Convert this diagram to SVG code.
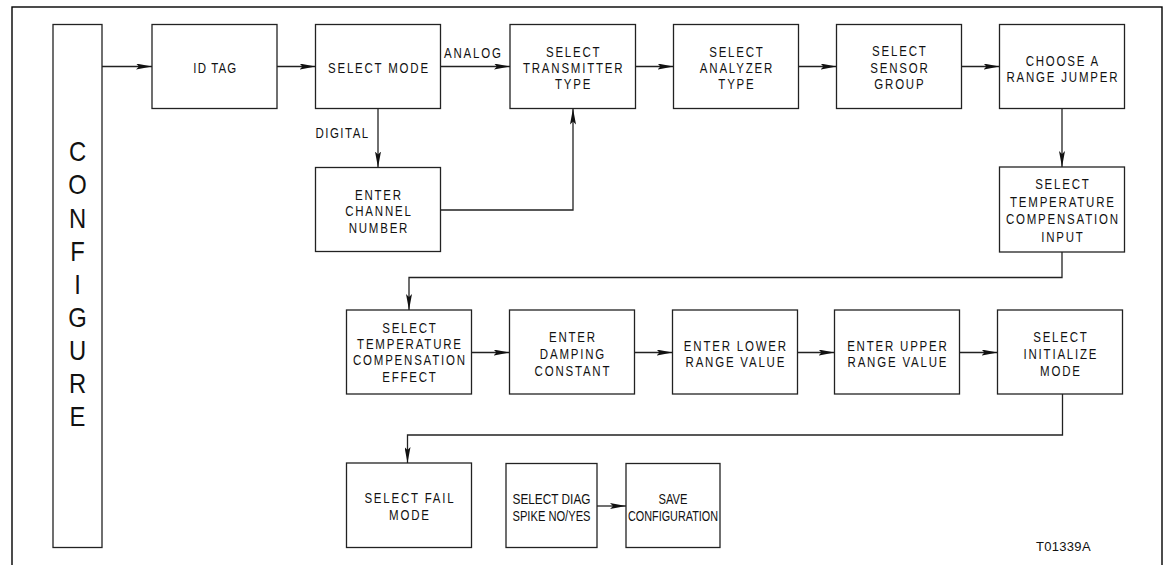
<svg xmlns="http://www.w3.org/2000/svg" width="1167" height="565" viewBox="0 0 1167 565">
<style>
.frame{fill:none;stroke:#000;stroke-width:1.4}
.box{fill:#fff;stroke:#222;stroke-width:1.3}
.t{font-family:"Liberation Sans",Arial,sans-serif;font-size:14px;fill:#111;text-anchor:middle;letter-spacing:2.2px}
.big{font-family:"Liberation Sans",Arial,sans-serif;font-size:28px;fill:#111;text-anchor:middle}
.lbl{font-family:"Liberation Sans",Arial,sans-serif;font-size:14px;fill:#111;letter-spacing:2.2px}
.id{font-family:"Liberation Sans",Arial,sans-serif;font-size:13px;fill:#111;letter-spacing:0.3px}
.c{fill:none;stroke:#222;stroke-width:1.3}
</style>
<defs>
<marker id="ah" markerUnits="userSpaceOnUse" markerWidth="16" markerHeight="6" refX="16" refY="3" orient="auto" viewBox="0 0 16 6">
<path d="M0,0 L16,3 L0,6 L3,3 z" fill="#111"/>
</marker>
</defs>
<rect class="frame" x="12" y="7" width="1150" height="570"/>

<g id="configure">
<rect class="box" x="53" y="24.5" width="49" height="523"/>
<text class="big" transform="scale(0.85,1)"><tspan x="91.2" y="161.5">C</tspan><tspan x="91.2" y="194.5">O</tspan><tspan x="91.2" y="228">N</tspan><tspan x="91.2" y="261">F</tspan><tspan x="91.2" y="294">I</tspan><tspan x="91.2" y="327.5">G</tspan><tspan x="91.2" y="360.5">U</tspan><tspan x="91.2" y="393.5">R</tspan><tspan x="91.2" y="426.5">E</tspan></text>
</g>

<g id="id-tag">
<rect class="box" x="152" y="24.5" width="125" height="84"/>
<text class="t" transform="scale(0.82,1)" x="262.7" y="73" style="letter-spacing:1.4px">ID TAG</text>
</g>
<g id="select-mode">
<rect class="box" x="315.5" y="24.5" width="125" height="84"/>
<text class="t" transform="scale(0.82,1)" x="462.1" y="73">SELECT MODE</text>
</g>
<g id="select-transmitter">
<rect class="box" x="510" y="24.5" width="125.5" height="84"/>
<text class="t" transform="scale(0.82,1)"><tspan x="699.6" y="56.7">SELECT</tspan><tspan x="699.6" y="73.3">TRANSMITTER</tspan><tspan x="699.6" y="89.3">TYPE</tspan></text>
</g>
<g id="select-analyzer">
<rect class="box" x="673.5" y="24.5" width="125" height="84"/>
<text class="t" transform="scale(0.82,1)"><tspan x="898.7" y="56.7">SELECT</tspan><tspan x="898.7" y="73.3">ANALYZER</tspan><tspan x="898.7" y="89.3">TYPE</tspan></text>
</g>
<g id="select-sensor">
<rect class="box" x="836.5" y="24.5" width="125" height="84"/>
<text class="t" transform="scale(0.82,1)"><tspan x="1097.4" y="56">SELECT</tspan><tspan x="1097.4" y="72.5">SENSOR</tspan><tspan x="1097.4" y="89">GROUP</tspan></text>
</g>
<g id="range-jumper">
<rect class="box" x="999.5" y="24.5" width="125" height="84"/>
<text class="t" transform="scale(0.82,1)"><tspan x="1296.2" y="65.7">CHOOSE A</tspan><tspan x="1296.2" y="81.7">RANGE JUMPER</tspan></text>
</g>
<g id="channel-number">
<rect class="box" x="315.5" y="167.5" width="125" height="84"/>
<text class="t" transform="scale(0.82,1)"><tspan x="462.1" y="200">ENTER</tspan><tspan x="462.1" y="216.5">CHANNEL</tspan><tspan x="462.1" y="233">NUMBER</tspan></text>
</g>
<g id="tc-input">
<rect class="box" x="999.5" y="167" width="125" height="85"/>
<text class="t" transform="scale(0.82,1)"><tspan x="1296.2" y="189.5">SELECT</tspan><tspan x="1296.2" y="207">TEMPERATURE</tspan><tspan x="1296.2" y="224.5">COMPENSATION</tspan><tspan x="1296.2" y="242">INPUT</tspan></text>
</g>
<g id="tc-effect">
<rect class="box" x="346.5" y="310" width="125" height="84"/>
<text class="t" transform="scale(0.82,1)"><tspan x="499.9" y="332.7">SELECT</tspan><tspan x="499.9" y="349">TEMPERATURE</tspan><tspan x="499.9" y="365.3">COMPENSATION</tspan><tspan x="499.9" y="381.7">EFFECT</tspan></text>
</g>
<g id="damping">
<rect class="box" x="509.5" y="310" width="125" height="84"/>
<text class="t" transform="scale(0.82,1)"><tspan x="698.7" y="342.3">ENTER</tspan><tspan x="698.7" y="359.3">DAMPING</tspan><tspan x="698.7" y="376.5">CONSTANT</tspan></text>
</g>
<g id="lower-range">
<rect class="box" x="672.5" y="310" width="125" height="84"/>
<text class="t" transform="scale(0.82,1)"><tspan x="897.4" y="351.5">ENTER LOWER</tspan><tspan x="897.4" y="367.5">RANGE VALUE</tspan></text>
</g>
<g id="upper-range">
<rect class="box" x="834.5" y="310" width="125" height="84"/>
<text class="t" transform="scale(0.82,1)"><tspan x="1095" y="351.5">ENTER UPPER</tspan><tspan x="1095" y="367.5">RANGE VALUE</tspan></text>
</g>
<g id="initialize-mode">
<rect class="box" x="997.5" y="310" width="125" height="84"/>
<text class="t" transform="scale(0.82,1)"><tspan x="1293.8" y="342.5">SELECT</tspan><tspan x="1293.8" y="359.3">INITIALIZE</tspan><tspan x="1293.8" y="376">MODE</tspan></text>
</g>
<g id="fail-mode">
<rect class="box" x="346.5" y="463" width="125" height="84.5"/>
<text class="t" transform="scale(0.82,1)"><tspan x="499.9" y="503.5">SELECT FAIL</tspan><tspan x="499.9" y="520.5">MODE</tspan></text>
</g>
<g id="diag-spike">
<rect class="box" x="506" y="463.5" width="91" height="84"/>
<text class="t" style="letter-spacing:0"><tspan x="551.5" y="503.5" textLength="78" lengthAdjust="spacingAndGlyphs">SELECT DIAG</tspan><tspan x="551.5" y="520.5" textLength="78" lengthAdjust="spacingAndGlyphs">SPIKE NO/YES</tspan></text>
</g>
<g id="save-config">
<rect class="box" x="626" y="463.5" width="94" height="84"/>
<text class="t" style="letter-spacing:0"><tspan x="673" y="503.5" textLength="29" lengthAdjust="spacingAndGlyphs">SAVE</tspan><tspan x="673" y="520.5" textLength="90" lengthAdjust="spacingAndGlyphs">CONFIGURATION</tspan></text>
</g>

<g id="connectors">
<path class="c" d="M102,66.5 H152" marker-end="url(#ah)"/>
<path class="c" d="M277,66.5 H315.5" marker-end="url(#ah)"/>
<path class="c" d="M440.5,66.5 H510" marker-end="url(#ah)"/>
<path class="c" d="M635.5,66.5 H673.5" marker-end="url(#ah)"/>
<path class="c" d="M798.5,66.5 H836.5" marker-end="url(#ah)"/>
<path class="c" d="M961.5,66.5 H999.5" marker-end="url(#ah)"/>
<path class="c" d="M378,108.5 V167.5" marker-end="url(#ah)"/>
<path class="c" d="M440.5,210 H573 V108.5" marker-end="url(#ah)"/>
<path class="c" d="M1062,108.5 V167" marker-end="url(#ah)"/>
<path class="c" d="M1062,252 V277.5 H409 V310" marker-end="url(#ah)"/>
<path class="c" d="M471.5,352.5 H509.5" marker-end="url(#ah)"/>
<path class="c" d="M634.5,352.5 H672.5" marker-end="url(#ah)"/>
<path class="c" d="M797.5,352.5 H834.5" marker-end="url(#ah)"/>
<path class="c" d="M959.5,352.5 H997.5" marker-end="url(#ah)"/>
<path class="c" d="M1062.5,394 V435 H407.5 V463" marker-end="url(#ah)"/>
<path class="c" d="M597,506 H626" marker-end="url(#ah)"/>
<text class="lbl" transform="scale(0.82,1)" x="541.5" y="57.7">ANALOG</text>
<text class="lbl" transform="scale(0.82,1)" x="384.8" y="137.7" style="letter-spacing:1.8px">DIGITAL</text>
</g>
<text class="id" x="1036" y="551">T01339A</text>
</svg>
